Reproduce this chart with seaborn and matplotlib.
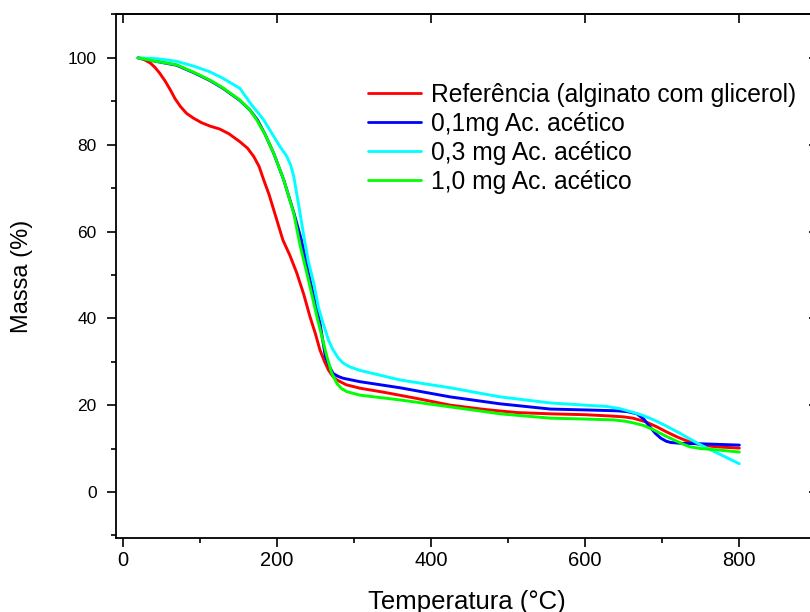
import numpy as np
import pandas as pd
import matplotlib
matplotlib.use("Agg")
import matplotlib.pyplot as plt
import seaborn as sns
from matplotlib.ticker import MultipleLocator

# ---- data ----
labels = ["Referência (alginato com glicerol)", "0,1mg Ac. acético",
          "0,3 mg Ac. acético", "1,0 mg Ac. acético"]
colors = ["#FF0000", "#0000FF", "#00FFFF", "#00FF00"]

t_ref = [20, 28, 36, 42, 48, 55, 62, 68, 75, 83, 92, 102, 113, 126, 138, 152, 162,
         170, 177, 183, 190, 196, 202, 208, 217, 226, 235, 243, 250, 256, 262, 267,
         272, 278, 290, 308, 338, 380, 425, 470, 511, 555, 600, 633, 650, 662, 678,
         693, 706, 719, 730, 740, 755, 771, 800]
m_ref = [100, 99.6, 98.8, 97.8, 96.5, 94.7, 92.6, 90.6, 88.8, 87.2, 86.1, 85.1,
         84.3, 83.6, 82.5, 80.7, 79.2, 77.3, 75.0, 71.9, 68.5, 65.0, 61.5, 58.0,
         54.5, 50.4, 45.5, 40.4, 36.5, 32.7, 30.0, 28.1, 26.8, 25.8, 24.7, 23.9,
         23.0, 21.6, 20.0, 19.0, 18.3, 18.0, 17.8, 17.5, 17.3, 17.0, 16.2, 15.0,
         13.8, 12.7, 11.9, 11.3, 10.7, 10.4, 10.1]

t_01 = [20, 40, 70, 92, 113, 130, 152, 165, 175, 185, 196, 209, 222, 232, 243, 250,
        256, 263, 268, 273, 280, 286, 308, 360, 425, 490, 555, 600, 641, 655, 667,
        676, 684, 691, 698, 705, 711, 725, 750, 800]
m_01 = [100, 99.3, 98.3, 96.6, 94.8, 93.0, 90.2, 88.0, 85.7, 82.3, 78.0, 71.9,
        64.4, 58.0, 48.8, 43.5, 38.9, 31.2, 29.0, 27.3, 26.6, 26.2, 25.4, 24.0,
        21.9, 20.3, 19.1, 18.9, 18.7, 18.5, 18.0, 16.8, 15.0, 13.5, 12.4, 11.7,
        11.4, 11.2, 11.1, 10.8]

t_03 = [20, 45, 70, 92, 113, 130, 152, 160, 168, 176, 183, 194, 204, 213, 218, 222,
        228, 235, 241, 248, 254, 260, 267, 273, 280, 286, 295, 308, 360, 425, 490,
        555, 600, 628, 645, 659, 674, 689, 704, 719, 732, 745, 758, 771, 785, 800]
m_03 = [100, 99.8, 99.2, 98.1, 96.8, 95.3, 93.0, 91.0, 89.0, 87.3, 85.7, 82.5,
        79.6, 77.3, 75.3, 72.7, 66.5, 59.0, 53.0, 48.1, 42.5, 38.9, 35.0, 32.7,
        30.8, 29.7, 28.8, 28.0, 25.8, 24.0, 21.9, 20.5, 20.0, 19.7, 19.2, 18.5,
        17.7, 16.6, 15.3, 13.9, 12.6, 11.3, 10.1, 9.0, 7.8, 6.5]

t_10 = [20, 40, 70, 92, 113, 130, 152, 165, 174, 185, 196, 209, 222, 230, 239, 252,
        265, 271, 278, 284, 291, 308, 360, 425, 490, 555, 600, 637, 652, 663, 676,
        689, 702, 715, 726, 736, 750, 771, 800]
m_10 = [100, 99.3, 98.4, 96.7, 94.9, 93.1, 90.3, 88.0, 85.7, 82.3, 78.0, 71.9,
        64.2, 57.0, 50.4, 40.4, 31.2, 27.5, 25.0, 23.8, 23.1, 22.3, 21.2, 19.6,
        18.0, 17.0, 16.8, 16.6, 16.3, 15.9, 15.3, 14.3, 13.1, 12.0, 11.1, 10.4,
        10.0, 9.7, 9.2]

x_ticks = [0, 200, 400, 600, 800]
y_ticks = [0, 20, 40, 60, 80, 100]

frames = []
for lab, t, m in zip(labels, [t_ref, t_01, t_03, t_10], [m_ref, m_01, m_03, m_10]):
    frames.append(pd.DataFrame({"T": t, "M": m, "amostra": lab}))
df = pd.concat(frames, ignore_index=True)

sns.set_theme(style="ticks")
plt.rcParams["font.family"] = ["Liberation Sans", "DejaVu Sans"]
plt.rcParams["text.color"] = "black"
plt.rcParams["axes.labelcolor"] = "black"
plt.rcParams["xtick.color"] = "black"
plt.rcParams["ytick.color"] = "black"
plt.rcParams["lines.solid_joinstyle"] = "round"
plt.rcParams["lines.solid_capstyle"] = "round"

W, H = 810, 612
fig = plt.figure(figsize=(W / 100, H / 100), dpi=100)
left, right, top, bottom = 115.5, 818, 14, 538
ax = fig.add_axes([left / W, 1 - bottom / H, (right - left) / W, (bottom - top) / H])

sns.lineplot(data=df, x="T", y="M", hue="amostra", hue_order=labels,
             palette=colors, estimator=None, sort=False, linewidth=2.1, ax=ax)

ax.set_xlim(-9.2, 902)
ax.set_ylim(-10.6, 110.1)
ax.set_xticks(x_ticks)
ax.set_yticks(y_ticks)
ax.xaxis.set_minor_locator(MultipleLocator(100))
ax.yaxis.set_minor_locator(MultipleLocator(10))

for s in ax.spines.values():
    s.set_linewidth(1.3)
    s.set_color("black")

ax.tick_params(which="major", direction="out", length=6.5, width=1.2, color="black")
ax.tick_params(which="minor", direction="out", length=3.5, width=1.2, color="black")
ax.tick_params(axis="y", labelsize=12.5, pad=7)
ax.tick_params(axis="x", labelsize=14.5, pad=3)

sec_x = ax.secondary_xaxis("top")
sec_x.set_xticks(x_ticks)
sec_x.tick_params(which="major", direction="in", length=6.5, width=1.2, labeltop=False)
sec_x.spines["top"].set_linewidth(1.3)
sec_y = ax.secondary_yaxis("right")
sec_y.set_yticks(y_ticks)
sec_y.tick_params(which="major", direction="in", length=6.5, width=1.2, labelright=False)

ax.set_xlabel("Temperatura (°C)", fontsize=18.5, labelpad=14)
ax.set_ylabel("Massa (%)", fontsize=17, labelpad=25)

leg = ax.legend(loc="upper left", bbox_to_anchor=(368 / W, 1 - 83 / H),
                bbox_transform=fig.transFigure, frameon=False, fontsize=17.7,
                handlelength=2.15, handletextpad=0.4, labelspacing=0.2,
                borderpad=0, borderaxespad=0)
for line in leg.get_lines():
    line.set_linewidth(2.0)

fig.savefig("out.png", dpi=100)
